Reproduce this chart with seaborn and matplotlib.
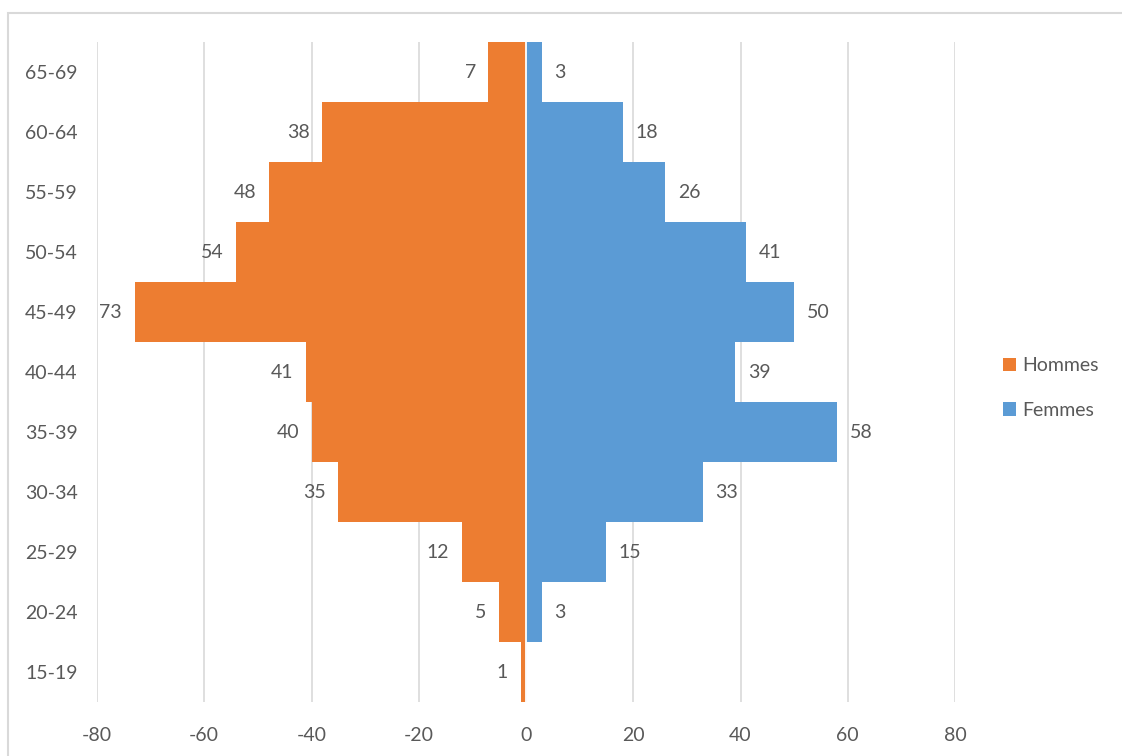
import numpy as np
import pandas as pd
import matplotlib
matplotlib.use('Agg')
import matplotlib.pyplot as plt
from matplotlib.patches import Rectangle
import seaborn as sns

# Age groups, top to bottom
ages    = ['65-69', '60-64', '55-59', '50-54', '45-49', '40-44',
           '35-39', '30-34', '25-29', '20-24', '15-19']
hommes  = [7, 38, 48, 54, 73, 41, 40, 35, 12, 5, 1]
femmes  = [3, 18, 26, 41, 50, 39, 58, 33, 15, 3, 0]
x_ticks = [-80, -60, -40, -20, 0, 20, 40, 60, 80]

orange = '#ED7D31'
blue   = '#5B9BD5'
grey   = '#595959'

df = pd.DataFrame({'Age': ages,
                   'Hommes': -np.array(hommes),
                   'Femmes': femmes})

sns.set_style('white')
plt.rcParams['font.family'] = ['Lato', 'DejaVu Sans']

fig = plt.figure(figsize=(11.22, 7.56), dpi=100)
ax = fig.add_axes([97 / 1122, 1 - 702 / 756, 858 / 1122, 660 / 756])

sns.barplot(data=df, x='Hommes', y='Age', order=ages, color=orange,
            width=1.0, orient='h', saturation=1, linewidth=0,
            ax=ax, label='Hommes', zorder=2)
sns.barplot(data=df, x='Femmes', y='Age', order=ages, color=blue,
            width=1.0, orient='h', saturation=1, linewidth=0,
            ax=ax, label='Femmes', zorder=2)

# data labels (outside end)
ax.bar_label(ax.containers[0], labels=[str(v) for v in hommes],
             padding=9, fontsize=14, color=grey)
ax.bar_label(ax.containers[1], labels=[str(v) if v else '' for v in femmes],
             padding=9, fontsize=14, color=grey)

ax.axvline(0, color='white', lw=1.3, zorder=3)

ax.set_xlim(-80, 80)
ax.set_xticks(x_ticks)
ax.set_xticklabels([str(t) for t in x_ticks])
ax.grid(axis='x', color='#D9D9D9', lw=1.2, zorder=0)
ax.grid(axis='y', visible=False)
ax.set_axisbelow(True)
ax.set_xlabel('')
ax.set_ylabel('')
ax.tick_params(axis='x', length=0, pad=18, labelsize=14, labelcolor=grey)
ax.tick_params(axis='y', length=0, pad=14, labelsize=14, labelcolor=grey)
sns.despine(ax=ax, left=True, bottom=True)

handles, labels = ax.get_legend_handles_labels()
ax.legend(handles, labels, loc='center left',
          bbox_to_anchor=(985 / 1122, 1 - 388 / 756),
          bbox_transform=fig.transFigure, frameon=False, fontsize=14,
          handlelength=0.7, handleheight=0.7, handletextpad=0.3,
          labelspacing=1.4, labelcolor=grey)

# chart area border (cropped at right and bottom)
fig.patches.append(Rectangle((8 / 1122, -0.1), 1.2, 0.1 + 1 - 13 / 756,
                             transform=fig.transFigure, fill=False,
                             edgecolor='#D9D9D9', lw=1.5))

fig.savefig('out.png', dpi=100)
